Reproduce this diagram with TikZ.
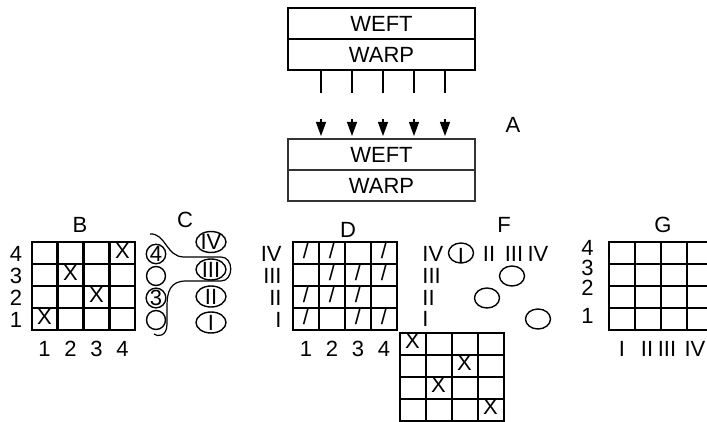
\documentclass[tikz,border=0pt]{standalone}
\usepackage{fontspec}
\setmainfont{Liberation Sans}
\usetikzlibrary{arrows.meta, positioning, shapes.geometric, matrix}

\tikzset{
  bandbox/.style={draw, line width=1pt, minimum width=93.5pt, minimum height=15.5pt, inner sep=0pt, outer sep=0pt},
  tick/.style={line width=1pt},
  feed/.style={line width=0.6pt, -{Triangle[length=7pt, width=5pt]}},
  lbl/.style={inner sep=0pt},
  cellgrid/.style={matrix of nodes, nodes in empty cells, inner sep=0pt,
    column sep=-1pt, row sep=-1pt,
    nodes={draw, line width=1pt, minimum width=13pt, minimum height=11pt,
      inner sep=0pt, anchor=center, text height=7.9pt, text depth=2.6pt}},
  spool/.style={circle, draw, line width=0.7pt, minimum size=9.5pt, inner sep=0pt},
  heddle/.style={ellipse, draw, line width=0.7pt, minimum width=15pt, minimum height=10.5pt, inner sep=-1pt},
  pick/.style={ellipse, draw, line width=0.7pt, minimum width=12.5pt, minimum height=10pt, inner sep=0pt},
  thread/.style={line width=0.6pt}
}

\begin{document}
\begin{tikzpicture}[x=0.5pt, y=-0.5pt, font=\fontsize{11}{13}\selectfont]
\fill[white] (0,0) rectangle (707,422);
\useasboundingbox (0,0) rectangle (707,422);

% loom head and the shed it feeds
\node[bandbox] (weft1) at (381.5,24) {WEFT};
\node[bandbox, below=0pt of weft1] (warp1) {WARP};
\node[bandbox, line width=0.6pt, draw=black!80] (weft2) at (381.5,154.5) {WEFT};
\node[bandbox, line width=0.6pt, draw=black!80, below=0pt of weft2] (warp2) {WARP};
\coordinate (feedtop) at (0,119);
\foreach \i in {1,...,5} {
  \path ([xshift={(\i-3)*15.5pt+0.75pt}]warp1.south) ++(0,23) coordinate (tick\i);
  \draw[tick] (tick\i |- warp1.south) -- (tick\i);
  \draw[feed, shorten >=1.5pt] (tick\i |- feedtop) -- (tick\i |- weft2.north);
}
\node[lbl] (labA) at (513,125) {A};

% B: draft
\matrix (bgrid) [cellgrid] at (83.5,286.5) {
   &   &   & X \\
   & X &   &   \\
   &   & X &   \\
 X &   &   &   \\
};
\node[lbl] (labB) at (80,225) {B};
\foreach \r/\t in {1/4,2/3,3/2,4/1}
  \node[lbl, left=4pt of bgrid-\r-1] {\t};
\foreach \c in {1,...,4}
  \node[lbl, below=4.5pt of bgrid-4-\c] {\c};

% C: threading through the heddles
\node[lbl] (labC) at (185,220) {C};
\node[spool] (spool4) at (156,254) {4};
\node[spool] (spool3) at (156,276) {};
\node[spool] (spool2) at (156,298) {3};
\node[spool] (spool1) at (156,320) {};
\node[heddle] (hedIV) at (211,242) {IV};
\node[heddle] (hedIII) at (211,269.5) {III};
\node[heddle] (hedII) at (211,296.5) {II};
\node[heddle] (hedI) at (211,322.5) {I};
\coordinate (threadin) at (150,234);
\coordinate (threadout) at (154,334);
\draw[thread] (threadin) .. controls (166,233) and (166,257) .. (184,257)
  -- (221,257) .. controls (234,257) and (234,281) .. (221,281)
  -- (186,281) .. controls (170,281) and (167,292) .. (167,306)
  -- (167,324) .. controls (167,337) and (157,337) .. (threadout);

% D: tie-up
\matrix (dgrid) [cellgrid] at (345,286.5) {
 / & / &   & / \\
   & / & / & / \\
 / & / & / &   \\
 / &   & / & / \\
};
\node[lbl] (labD) at (348,230) {D};
\foreach \r/\t in {1/IV,2/III,3/II,4/I}
  \node[lbl, left=5pt of dgrid-\r-1] {\t};
\foreach \c in {1,...,4}
  \node[lbl, below=4.5pt of dgrid-4-\c] {\c};

% E: weave below the tie-up
\matrix (egrid) [cellgrid] at (451.5,376.5) {
 X &   &   &   \\
   &   & X &   \\
   & X &   &   \\
   &   &   & X \\
};

% F: treadling
\node[lbl] (labF) at (504,225) {F};
\node[lbl, anchor=west] (frow4) at (422,254) {IV};
\node[lbl, anchor=west] (frow3) at (422,276) {III};
\node[lbl, anchor=west] (frow2) at (422,298) {II};
\node[lbl, anchor=west] (frow1) at (422,319) {I};
\node[pick] (fcol1) at (461,253) {};
\node[lbl] at ([yshift=-1.5pt]fcol1) {I};
\node[lbl] (fcol2) at (489,254) {II};
\node[lbl] (fcol3) at (514,254) {III};
\node[lbl] (fcol4) at (538,254) {IV};
\node[pick] (pick3) at ([xshift=-1pt]fcol3 |- frow3) {};
\node[pick] (pick2) at ([xshift=-1pt]fcol2 |- frow2) {};
\node[pick] (pick1) at (fcol4 |- frow1) {};

% G: empty draft
\matrix (ggrid) [cellgrid] at (661,286.5) {
   &   &   &   \\
   &   &   &   \\
   &   &   &   \\
   &   &   &   \\
};
\node[lbl] (labG) at (663,225) {G};
\node[lbl, left=7pt of ggrid-1-1, yshift=3pt] (g4) {4};
\node[lbl, below=2pt of g4] (g3) {3};
\node[lbl, below=2pt of g3] (g2) {2};
\node[lbl, left=7pt of ggrid-4-1, yshift=2pt] (g1) {1};
\node[lbl, below=4.5pt of ggrid-4-1] {I};
\node[lbl, below=4.5pt of ggrid-4-2, xshift=-0.5pt] {II};
\node[lbl, below=4.5pt of ggrid-4-3, xshift=-3.5pt] {III};
\node[lbl, below=4.5pt of ggrid-4-4, xshift=-2.5pt] {IV};
\end{tikzpicture}
\end{document}
